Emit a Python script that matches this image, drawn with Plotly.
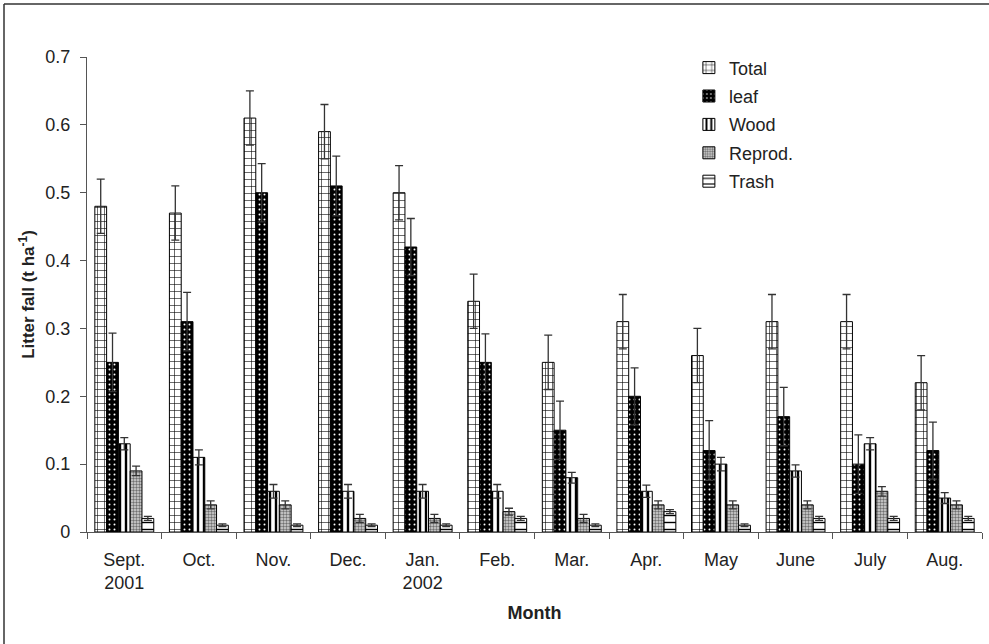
import plotly.graph_objects as go

months = ["Sept.<br>2001", "Oct.", "Nov.", "Dec.", "Jan.<br>2002", "Feb.", "Mar.",
          "Apr.", "May", "June", "July", "Aug."]

total = [0.48, 0.47, 0.61, 0.59, 0.50, 0.34, 0.25, 0.31, 0.26, 0.31, 0.31, 0.22]
total_err = [0.04] * 12

leaf = [0.25, 0.31, 0.50, 0.51, 0.42, 0.25, 0.15, 0.20, 0.12, 0.17, 0.10, 0.12]
leaf_err = [0.043, 0.043, 0.043, 0.044, 0.042, 0.042, 0.043, 0.042, 0.044, 0.043, 0.043, 0.042]

wood = [0.13, 0.11, 0.06, 0.06, 0.06, 0.06, 0.08, 0.06, 0.10, 0.09, 0.13, 0.05]
wood_err = [0.009, 0.011, 0.01, 0.01, 0.01, 0.01, 0.008, 0.009, 0.01, 0.009, 0.009, 0.008]

reprod = [0.09, 0.04, 0.04, 0.02, 0.02, 0.03, 0.02, 0.04, 0.04, 0.04, 0.06, 0.04]
reprod_err = [0.007, 0.006, 0.006, 0.006, 0.006, 0.005, 0.006, 0.006, 0.006, 0.006, 0.007, 0.006]

trash = [0.02, 0.01, 0.01, 0.01, 0.01, 0.02, 0.01, 0.03, 0.01, 0.02, 0.02, 0.02]
trash_err = [0.003, 0.002, 0.002, 0.002, 0.002, 0.003, 0.002, 0.003, 0.002, 0.003, 0.003, 0.003]

y_ticks = [0, 0.1, 0.2, 0.3, 0.4, 0.5, 0.6, 0.7]
y_tick_labels = ["0", "0.1", "0.2", "0.3", "0.4", "0.5", "0.6", "0.7"]

FONT = "Liberation Sans, Arial, sans-serif"
TXT = "#222222"

series = [
    ("Total", total, total_err, dict(shape="+", bgcolor="white", fgcolor="black", size=7, solidity=0.16, fillmode="replace")),
    ("leaf", leaf, leaf_err, dict(shape=".", bgcolor="black", fgcolor="white", size=5, solidity=0.12, fillmode="replace")),
    ("Wood", wood, wood_err, dict(shape="|", bgcolor="white", fgcolor="black", size=6, solidity=0.4, fillmode="replace")),
    ("Reprod.", reprod, reprod_err, dict(shape=".", bgcolor="#d8d8d8", fgcolor="#707070", size=3, solidity=0.5, fillmode="replace")),
    ("Trash", trash, trash_err, dict(shape="-", bgcolor="white", fgcolor="black", size=7, solidity=0.2, fillmode="replace")),
]

fig = go.Figure()
for name, vals, errs, pat in series:
    fig.add_trace(go.Bar(
        x=months, y=vals, name=name, legendgroup=name,
        marker=dict(color="white", pattern=pat, line=dict(color="black", width=1)),
        error_y=dict(type="data", array=errs, visible=True, color="#333333",
                     thickness=1.3, width=4),
    ))

fig.update_layout(
    barmode="group", bargap=0.21, bargroupgap=0,
    width=989, height=644,
    margin=dict(l=87, r=7, t=57, b=112),
    paper_bgcolor="white", plot_bgcolor="white",
    font=dict(family=FONT, size=18, color=TXT),
    legend=dict(x=0.6725, y=1.016, xanchor="left", yanchor="top",
                font=dict(size=18, color=TXT), tracegroupgap=2,
                bgcolor="rgba(0,0,0,0)"),
    showlegend=True,
)
fig.update_xaxes(
    type="category", showline=True, linecolor="#555555", linewidth=1.2,
    ticks="outside", tickson="boundaries", ticklen=6, tickcolor="#555555",
    tickfont=dict(size=18, color=TXT), ticklabelstandoff=11,
    title=dict(text="<b>Month</b>", font=dict(size=18, color=TXT), standoff=14),
    showgrid=False,
)
fig.update_yaxes(
    range=[0, 0.7], tickvals=y_ticks, ticktext=y_tick_labels,
    showline=True, linecolor="#555555", linewidth=1.2,
    ticks="outside", ticklen=6, tickcolor="#555555",
    tickfont=dict(size=18, color=TXT), ticklabelstandoff=6,
    title=dict(text="<b>Litter fall (t ha<sup>-1</sup>)</b>", font=dict(size=17, color=TXT), standoff=6),
    showgrid=False, zeroline=False,
)

# outer frame (left and top edges visible in the reference)
fig.add_shape(type="line", xref="paper", yref="paper",
              x0=(4 - 87) / 895, x1=(4 - 87) / 895, y0=(532 - 650) / 475, y1=(532 - 4) / 475,
              line=dict(color="#333333", width=1.5))
fig.add_shape(type="line", xref="paper", yref="paper",
              x0=(4 - 87) / 895, x1=(995 - 87) / 895, y0=(532 - 4) / 475, y1=(532 - 4) / 475,
              line=dict(color="#333333", width=1.5))

fig.write_html("out.html")
